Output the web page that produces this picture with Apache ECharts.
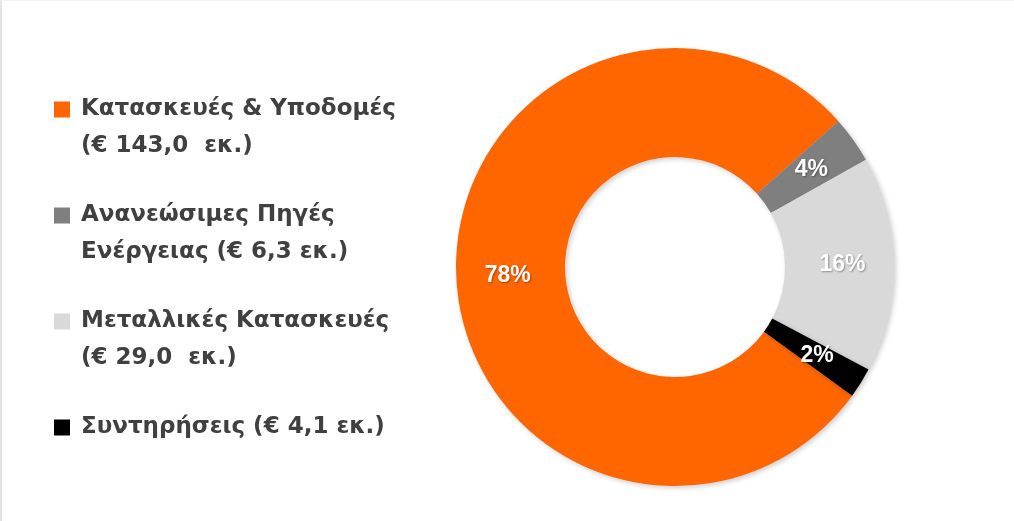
<!DOCTYPE html>
<html>
<head>
    <meta charset="utf-8">
    <title>Κατανομή ανά τομέα</title>
    <script src="https://cdn.jsdelivr.net/npm/echarts@6/dist/echarts.min.js"></script>
    <style>
        html, body { margin: 0; padding: 0; background: #fff; }
        #chart { width: 1014px; height: 521px; box-sizing: border-box; border-left: 2px solid #e4e4e4; border-top: 1px solid #f0f0f0; }
    </style>
</head>
<body>
<div id="chart"></div>
<script type="text/javascript">
    // τομείς (όνομα / δεύτερη γραμμή υπομνήματος) και ποσά σε εκ. €
    var sectors = ['Κατασκευές & Υποδομές', 'Ανανεώσιμες Πηγές', 'Μεταλλικές Κατασκευές', 'Συντηρήσεις (€ 4,1 εκ.)'];
    var secondLines = ['(€ 143,0  εκ.)', 'Ενέργειας (€ 6,3 εκ.)', '(€ 29,0  εκ.)', ''];
    var amounts = [143.0, 6.3, 29.0, 4.1];
    var colors = ['#ff6600', '#7f7f7f', '#d9d9d9', '#000000'];

    var myChart = echarts.init(document.getElementById('chart'));

    var pieData = sectors.map(function (name, i) {
        return {name: name, value: amounts[i], itemStyle: {color: colors[i]}};
    });

    // τετράγωνο στην κορυφή ενός ψηλού πλαισίου, ώστε να στοιχίζεται με την 1η γραμμή
    var legendIcon = 'path://M0 0h16v16h-16z M21.99 52.99h0.01v0.01h-0.01z';

    myChart.setOption({
        animation: false,
        legend: {
            orient: 'vertical',
            left: 47,
            top: 85,
            itemWidth: 22,
            itemHeight: 53,
            itemGap: 32,
            icon: legendIcon,
            selectedMode: false,
            data: sectors,
            formatter: function (name) {
                var i = sectors.indexOf(name);
                return name + '\n' + secondLines[i];
            },
            textStyle: {
                fontFamily: 'DejaVu Sans',
                fontWeight: 'bold',
                fontSize: 23,
                color: '#404040',
                lineHeight: 37
            }
        },
        series: [{
            type: 'pie',
            center: [673, 266],
            radius: [110, 219],
            startAngle: 324,
            clockwise: true,
            percentPrecision: 0,
            avoidLabelOverlap: false,
            label: {
                show: true,
                position: 'inside',
                formatter: '{d}%',
                color: '#fff',
                fontFamily: 'Liberation Sans',
                fontWeight: 'bold',
                fontSize: 23,
                textShadowColor: 'rgba(0,0,0,0.35)',
                textShadowBlur: 2,
                textShadowOffsetX: 1,
                textShadowOffsetY: 1
            },
            labelLine: {show: false},
            emphasis: {disabled: true},
            itemStyle: {
                shadowColor: 'rgba(0,0,0,0.2)',
                shadowBlur: 5,
                shadowOffsetX: 2,
                shadowOffsetY: 2
            },
            data: pieData
        }]
    });
</script>
</body>
</html>
